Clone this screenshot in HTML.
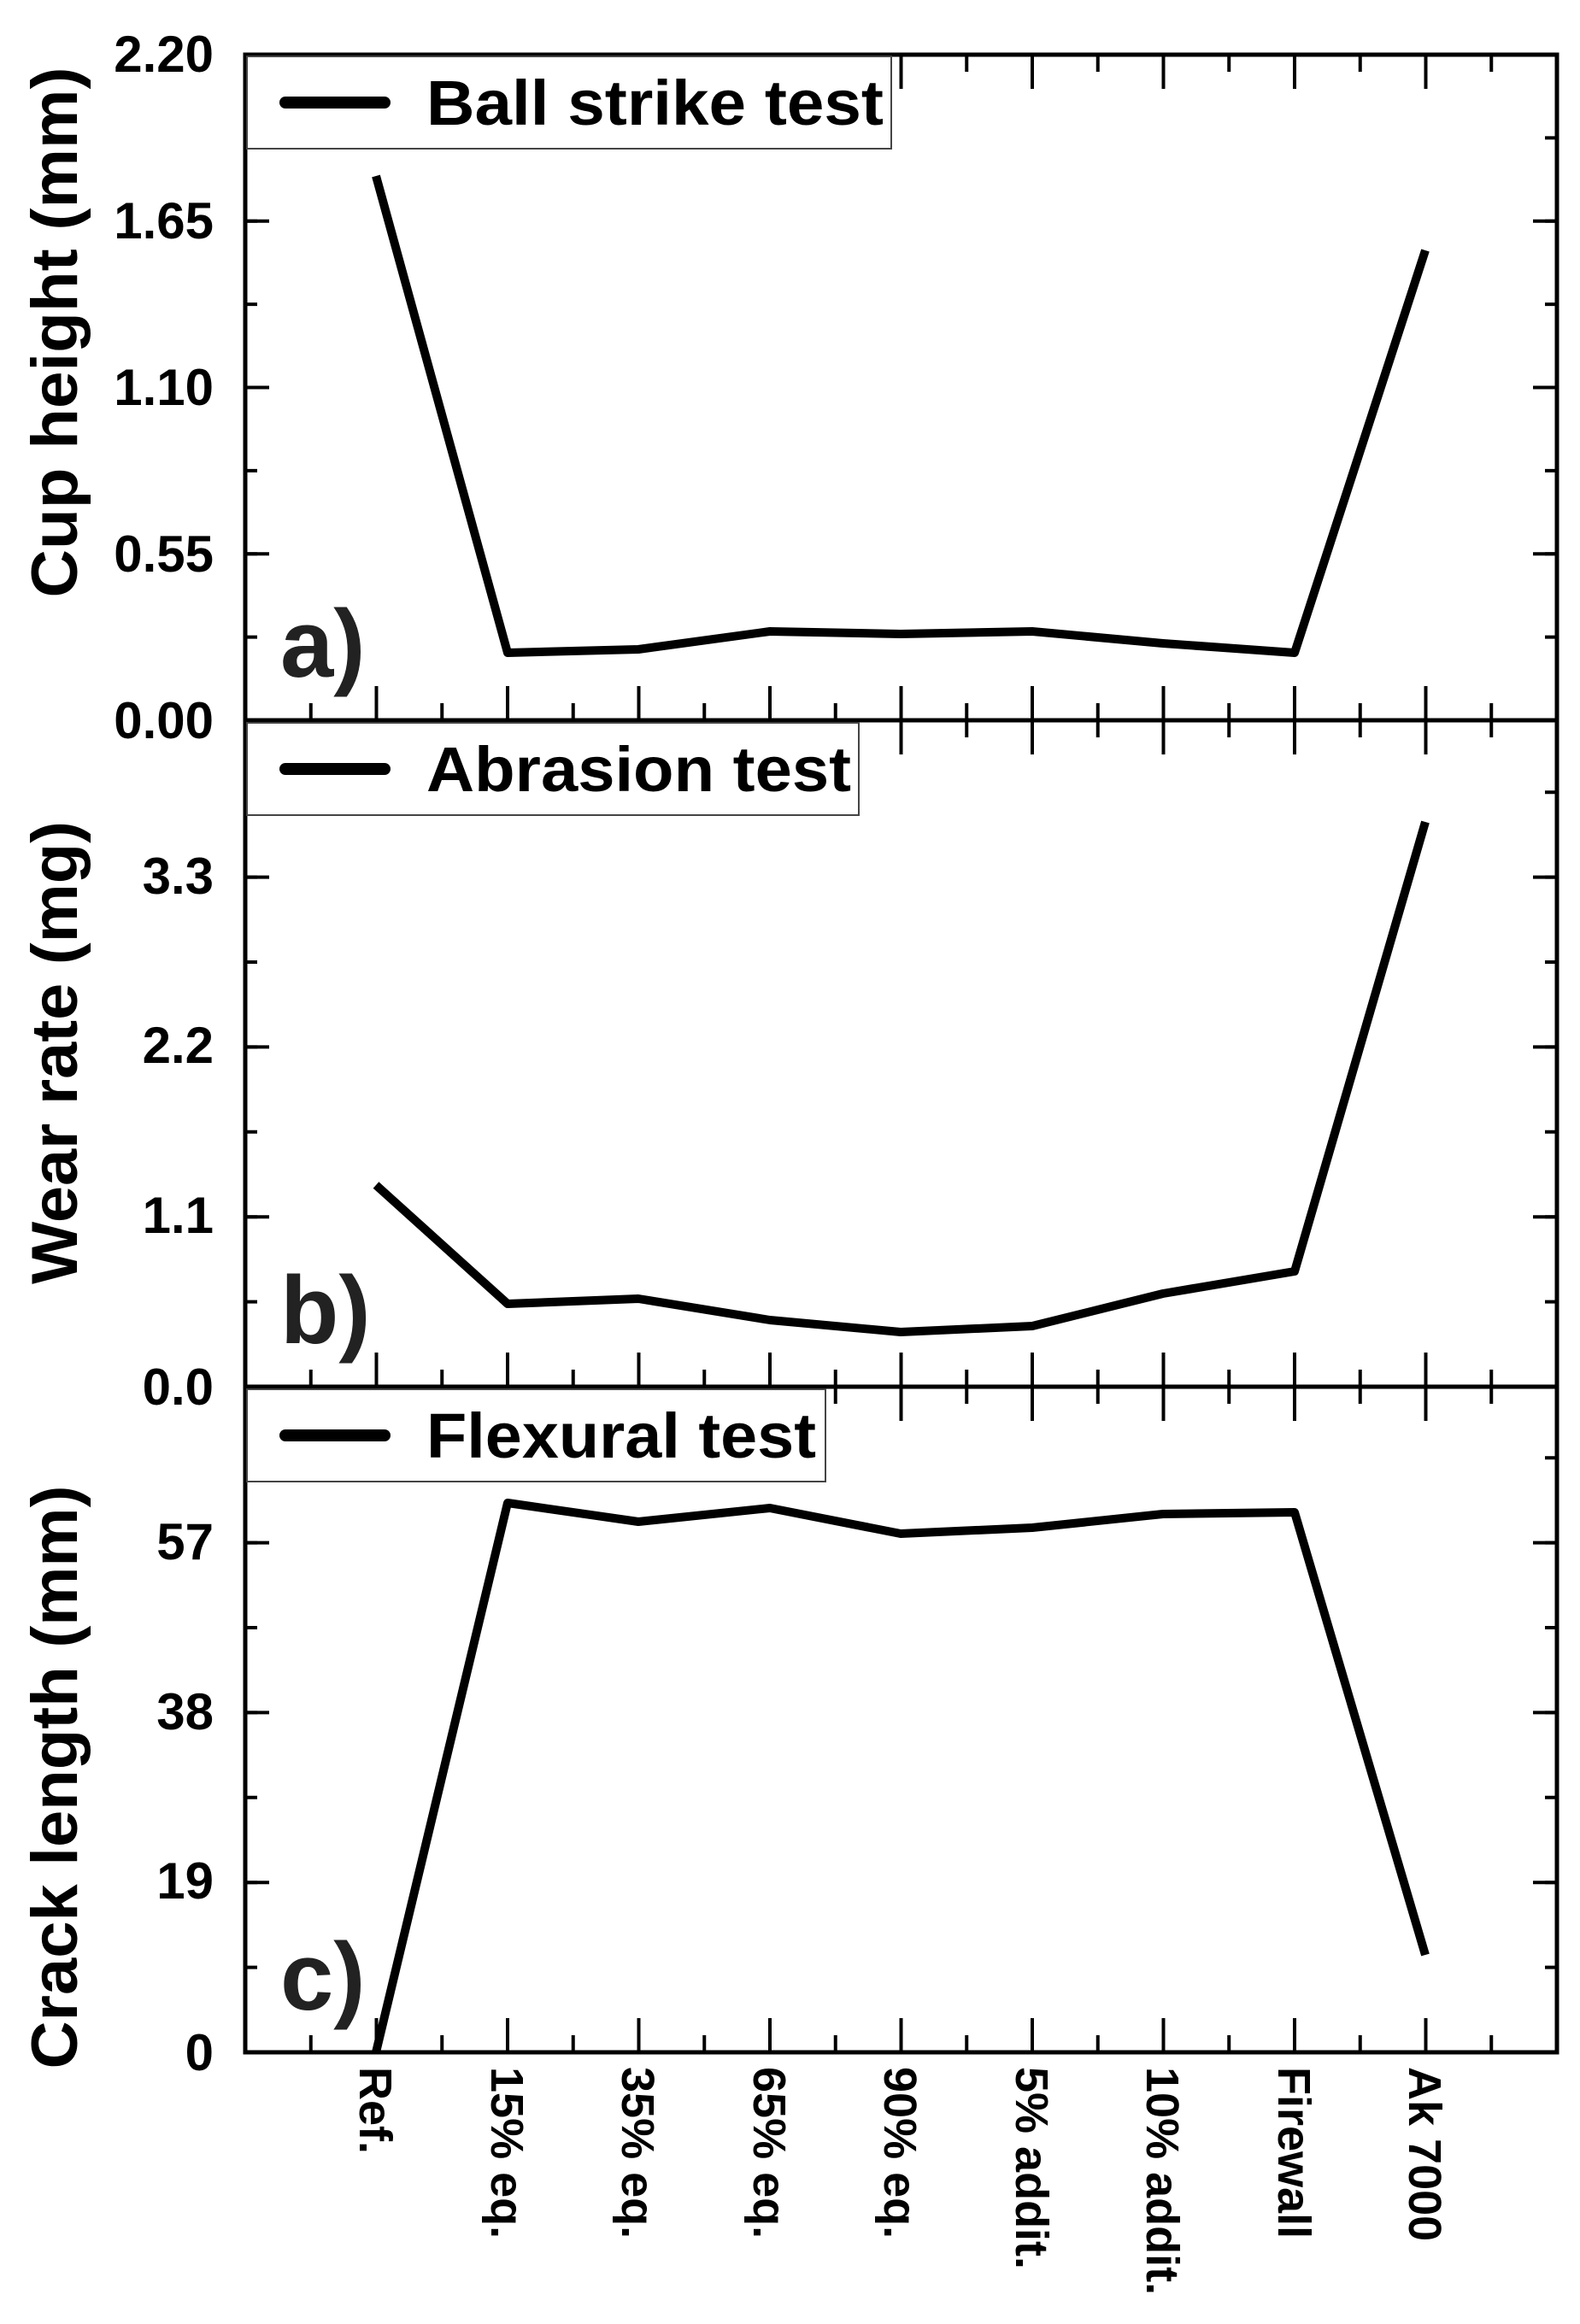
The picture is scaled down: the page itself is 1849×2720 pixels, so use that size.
<!DOCTYPE html>
<html><head><meta charset="utf-8"><style>html,body{margin:0;padding:0;background:#fff}svg{display:block}</style></head><body>
<svg xmlns="http://www.w3.org/2000/svg" width="1849" height="2720" viewBox="0 0 1849 2720" font-family="Liberation Sans, Arial, sans-serif" font-weight="bold">
<rect width="1849" height="2720" fill="#fff"/>
<g fill="none" stroke="#000" stroke-width="5">
<rect x="287" y="64" width="1535" height="2338"/>
<line x1="287" y1="843" x2="1822" y2="843"/>
<line x1="287" y1="1623" x2="1822" y2="1623"/>
</g>
<g fill="none" stroke="#000">
<g stroke-width="20" stroke-dasharray="4 72.75">
<line x1="361.75" y1="833" x2="1822" y2="833"/><line x1="361.75" y1="74" x2="1822" y2="74"/>
<line x1="361.75" y1="1613" x2="1822" y2="1613"/><line x1="361.75" y1="853" x2="1822" y2="853"/>
<line x1="361.75" y1="2392" x2="1822" y2="2392"/><line x1="361.75" y1="1633" x2="1822" y2="1633"/>
</g>
<g stroke-width="40" stroke-dasharray="4 149.5">
<line x1="438.5" y1="823" x2="1822" y2="823"/><line x1="438.5" y1="84" x2="1822" y2="84"/>
<line x1="438.5" y1="1603" x2="1822" y2="1603"/><line x1="438.5" y1="863" x2="1822" y2="863"/>
<line x1="438.5" y1="2382" x2="1822" y2="2382"/><line x1="438.5" y1="1643" x2="1822" y2="1643"/>
</g>
<g stroke-width="14" stroke-dasharray="4 93.375">
<line x1="294" y1="747.6" x2="294" y2="64"/><line x1="1815" y1="747.6" x2="1815" y2="64"/>
</g>
<g stroke-width="14" stroke-dasharray="4 95.4">
<line x1="294" y1="1525.6" x2="294" y2="843"/><line x1="1815" y1="1525.6" x2="1815" y2="843"/>
<line x1="294" y1="2304.6" x2="294" y2="1623"/><line x1="1815" y1="2304.6" x2="1815" y2="1623"/>
</g>
<g stroke-width="28" stroke-dasharray="4 190.75">
<line x1="301" y1="650.25" x2="301" y2="64"/><line x1="1808" y1="650.25" x2="1808" y2="64"/>
</g>
<g stroke-width="28" stroke-dasharray="4 194.8">
<line x1="301" y1="1426.2" x2="301" y2="843"/><line x1="1808" y1="1426.2" x2="1808" y2="843"/>
<line x1="301" y1="2205.2" x2="301" y2="1623"/><line x1="1808" y1="2205.2" x2="1808" y2="1623"/>
</g>
</g>
<g fill="#fff" stroke="#444" stroke-width="2">
<rect x="289" y="66" width="754" height="108"/>
<rect x="289" y="846" width="716" height="108"/>
<rect x="289" y="1626" width="677" height="108"/>
</g>
<g stroke="#000" stroke-width="14" stroke-linecap="round">
<line x1="334" y1="120" x2="450" y2="120"/>
<line x1="334" y1="900" x2="450" y2="900"/>
<line x1="334" y1="1680" x2="450" y2="1680"/>
</g>
<g font-size="74" fill="#000">
<text x="499" y="146" textLength="535" lengthAdjust="spacingAndGlyphs">Ball strike test</text>
<text x="499" y="926" textLength="497" lengthAdjust="spacingAndGlyphs">Abrasion test</text>
<text x="499" y="1706" textLength="456" lengthAdjust="spacingAndGlyphs">Flexural test</text>
</g>
<g font-size="112" fill="#222">
<text x="328" y="792">a)</text>
<text x="328" y="1572">b)</text>
<text x="328" y="2352">c)</text>
</g>
<g font-size="60" fill="#000" text-anchor="end">
<text x="250" y="84">2.20</text><text x="250" y="279">1.65</text><text x="250" y="474">1.10</text><text x="250" y="669">0.55</text><text x="250" y="864">0.00</text>
<text x="250" y="1046">3.3</text><text x="250" y="1244">2.2</text><text x="250" y="1443">1.1</text><text x="250" y="1644">0.0</text>
<text x="250" y="1825">57</text><text x="250" y="2024">38</text><text x="250" y="2222">19</text><text x="250" y="2423">0</text>
</g>
<g font-size="76" fill="#000" text-anchor="middle">
<text transform="translate(90,389) rotate(-90)" textLength="621" lengthAdjust="spacingAndGlyphs">Cup height (mm)</text>
<text transform="translate(90,1232) rotate(-90)" textLength="542" lengthAdjust="spacingAndGlyphs">Wear rate (mg)</text>
<text transform="translate(90,2080) rotate(-90)" textLength="683" lengthAdjust="spacingAndGlyphs">Crack length (mm)</text>
</g>
<g font-size="54" fill="#000">
<text transform="translate(440,2419) rotate(90)" y="19">Ref.</text>
<text transform="translate(594,2419) rotate(90)" y="19">15% eq.</text>
<text transform="translate(747,2419) rotate(90)" y="19">35% eq.</text>
<text transform="translate(901,2419) rotate(90)" y="19">65% eq.</text>
<text transform="translate(1054,2419) rotate(90)" y="19">90% eq.</text>
<text transform="translate(1208,2419) rotate(90)" y="19">5% addit.</text>
<text transform="translate(1361,2419) rotate(90)" y="19">10% addit.</text>
<text transform="translate(1515,2419) rotate(90)" y="19">Firewall</text>
<text transform="translate(1668,2419) rotate(90)" y="19">Ak 7000</text>
</g>
<g fill="none" stroke="#000" stroke-width="10" stroke-linejoin="round">
<polyline points="440,206 594,764 747,760 901,739 1054,742 1208,739 1361,753 1515,764 1668,293"/>
<polyline points="440,1387 594,1526 747,1520 901,1545 1054,1559 1208,1552 1361,1514 1515,1488 1668,962"/>
<polyline points="440,2402 594,1759 747,1781 901,1765 1054,1795 1208,1788 1361,1772 1515,1770 1668,2288"/>
</g>
</svg>
</body></html>
